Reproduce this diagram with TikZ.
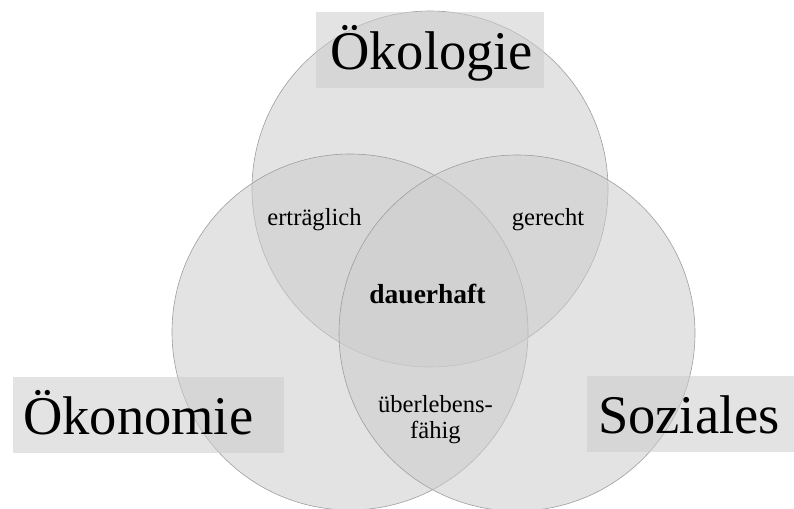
\documentclass[tikz,border=0pt]{standalone}
\usepackage{fontspec}
\setmainfont{Liberation Serif}
\definecolor{venngray}{gray}{0.8}
\definecolor{venndraw}{gray}{0.62}
\begin{document}
\begin{tikzpicture}[x=1pt, y=-1pt,
    venn/.style={circle, minimum size=356pt, inner sep=0pt, fill=venngray, fill opacity=.55, draw=venndraw, line width=.6pt},
    bigbox/.style={anchor=north west, fill=venngray, fill opacity=.55, text opacity=1, align=left, font=\fontsize{54.5}{60}\selectfont, text height=49pt, text depth=10pt, inner ysep=8.5pt},
    small/.style={font=\fontsize{24.6}{26.5}\selectfont, align=center}]
    \useasboundingbox (0,0) rectangle (794,508);
    % the three circles
    \foreach \n/\x/\y in {oekol/430/189, oekon/350/332, soz/517/333}
    {
        \node[venn] (\n) at (\x,\y) {};
    }
    % headings
    \node[bigbox, inner xsep=14pt, text width=200pt] (toekol) at (316,12) {Ökologie};
    \node[bigbox, inner xsep=10pt, text width=251pt] (toekon) at (13,377) {Ökonomie};
    \node[bigbox, inner xsep=11pt, text width=194pt] (tsoz) at (587,376) {Soziales};
    % overlaps
    \node[small, anchor=base] (ertr) at (314.5,225) {erträglich};
    \node[small, anchor=base] (ger) at (548,225) {gerecht};
    \node[small, anchor=base, font=\fontsize{27.5}{30}\selectfont\bfseries] (dauer) at (427.5,303) {dauerhaft};
    \node[small] (ueber) at (435.5,419.5) {überlebens-\\fähig};
\end{tikzpicture}
\end{document}
